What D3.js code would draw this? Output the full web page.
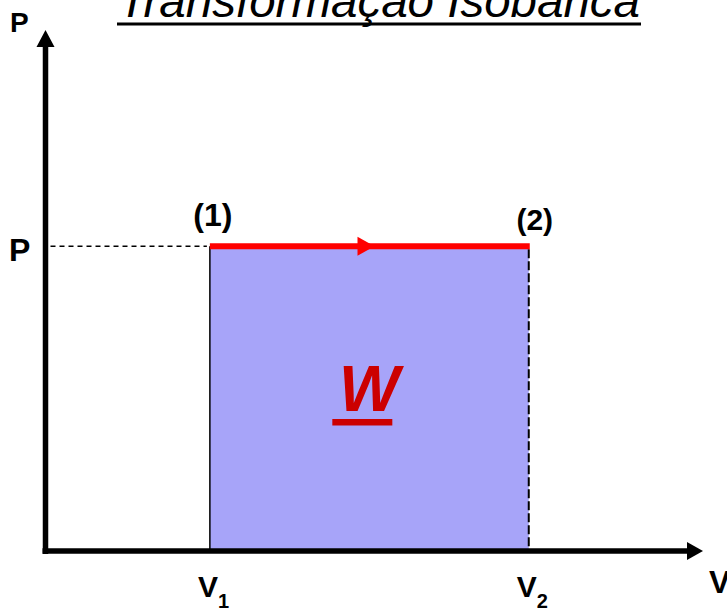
<!DOCTYPE html>
<html>
<head>
<meta charset="utf-8">
<script src="https://cdn.jsdelivr.net/npm/d3@7"></script>
<style>
  html, body { margin: 0; padding: 0; background: #fff; }
  svg { display: block; }
</style>
</head>
<body>
<div class="canvas"></div>
<script>
// schematic values (arbitrary units)
const volumes = [2.5, 7.35];          // V1, V2
const volumeLabels = ["1", "2"];      // subscripts
const pressure = 5.85;                // P (constant)
const states = ["(1)", "(2)"];
const titleText = "Transformação Isobárica";
const workLabel = "W";

const width = 727, height = 611;
const origin = { x: 45.5, y: 551 };

const x = d3.scaleLinear().domain([0, 10]).range([origin.x, 703]);
const y = d3.scaleLinear().domain([0, 10]).range([origin.y, 30]);

const svg = d3.select(".canvas").append("svg")
  .attr("width", width)
  .attr("height", height)
  .style("font-family", "Arial, 'Liberation Sans', sans-serif");

// work area
svg.append("rect")
  .attr("x", x(volumes[0]))
  .attr("y", y(pressure))
  .attr("width", x(volumes[1]) - x(volumes[0]))
  .attr("height", y(0) - y(pressure))
  .attr("fill", "#a7a4f9");

// left edge of area
svg.append("line")
  .attr("x1", x(volumes[0])).attr("x2", x(volumes[0]))
  .attr("y1", y(pressure)).attr("y2", y(0))
  .attr("stroke", "#000").attr("stroke-width", 1.5);

// right edge (dashed)
svg.append("line")
  .attr("x1", x(volumes[1])).attr("x2", x(volumes[1]))
  .attr("y1", y(pressure) + 3).attr("y2", y(0))
  .attr("stroke", "#000").attr("stroke-width", 2)
  .attr("stroke-dasharray", "9,3");

// dashed P guide
svg.append("line")
  .attr("x1", origin.x + 5).attr("x2", x(volumes[0]) - 3)
  .attr("y1", y(pressure)).attr("y2", y(pressure))
  .attr("stroke", "#000").attr("stroke-width", 1.6)
  .attr("stroke-dasharray", "5,4");

// isobaric path
svg.append("line")
  .attr("x1", x(volumes[0])).attr("x2", x(volumes[1]) + 1)
  .attr("y1", y(pressure)).attr("y2", y(pressure))
  .attr("stroke", "#ff0000").attr("stroke-width", 6);

const midX = x(volumes[0]) + (x(volumes[1]) - x(volumes[0])) * 0.51;
svg.append("path")
  .attr("d", `M${midX - 15},${y(pressure) - 9.5} L${midX + 2},${y(pressure)} L${midX - 15},${y(pressure) + 9.5}Z`)
  .attr("fill", "#ff0000");

// axes
svg.append("line")
  .attr("x1", origin.x).attr("x2", origin.x)
  .attr("y1", origin.y + 3).attr("y2", y(10) + 14)
  .attr("stroke", "#000").attr("stroke-width", 5.5);
svg.append("path")
  .attr("d", `M${origin.x},${y(10)} L${origin.x - 9},${y(10) + 17} L${origin.x + 9},${y(10) + 17}Z`)
  .attr("fill", "#000");

svg.append("line")
  .attr("x1", origin.x - 3).attr("x2", x(10) - 14)
  .attr("y1", origin.y).attr("y2", origin.y)
  .attr("stroke", "#000").attr("stroke-width", 5.5);
svg.append("path")
  .attr("d", `M${x(10)},${origin.y} L${x(10) - 16},${origin.y - 9} L${x(10) - 16},${origin.y + 9}Z`)
  .attr("fill", "#000");

// axis letters
svg.append("text")
  .attr("x", 10).attr("y", 32)
  .attr("font-size", 28).attr("font-weight", "bold")
  .text("P");
svg.append("text")
  .attr("x", 9).attr("y", 261)
  .attr("font-size", 32).attr("font-weight", "bold")
  .text("P");
svg.append("text")
  .attr("x", 709).attr("y", 593)
  .attr("font-size", 32).attr("font-weight", "bold")
  .text("V");

// V1, V2 labels
const vl = svg.selectAll(".vlab")
  .data(volumes)
  .join("text")
  .attr("class", "vlab")
  .attr("x", d => x(d) - 12)
  .attr("y", 597)
  .attr("font-size", 30).attr("font-weight", "bold");
vl.append("tspan").text("V");
vl.append("tspan")
  .attr("dy", 11)
  .attr("font-size", 20)
  .text((d, i) => volumeLabels[i]);

// state labels
svg.selectAll(".state")
  .data(states)
  .join("text")
  .attr("class", "state")
  .attr("x", (d, i) => x(volumes[i]) + (i === 0 ? 3 : 6))
  .attr("y", (d, i) => i === 0 ? 226 : 230)
  .attr("text-anchor", "middle")
  .attr("font-size", (d, i) => i === 0 ? 32 : 30)
  .attr("font-weight", "bold")
  .text(d => d);

// W label
const wx = (x(volumes[0]) + x(volumes[1])) / 2;
svg.append("text")
  .attr("x", wx).attr("y", 411)
  .attr("text-anchor", "middle")
  .attr("font-size", 64).attr("font-weight", "bold").attr("font-style", "italic")
  .attr("fill", "#cc0000")
  .text(workLabel);
svg.append("rect")
  .attr("x", wx - 37).attr("y", 419)
  .attr("width", 60).attr("height", 6.5)
  .attr("fill", "#cc0000");

// title
svg.append("text")
  .attr("x", 118).attr("y", 17)
  .attr("font-size", 47).attr("font-style", "italic")
  .attr("textLength", 522)
  .attr("lengthAdjust", "spacingAndGlyphs")
  .text(titleText);
svg.append("rect")
  .attr("x", 117).attr("y", 22.5)
  .attr("width", 524).attr("height", 3)
  .attr("fill", "#000");
</script>
</body>
</html>
